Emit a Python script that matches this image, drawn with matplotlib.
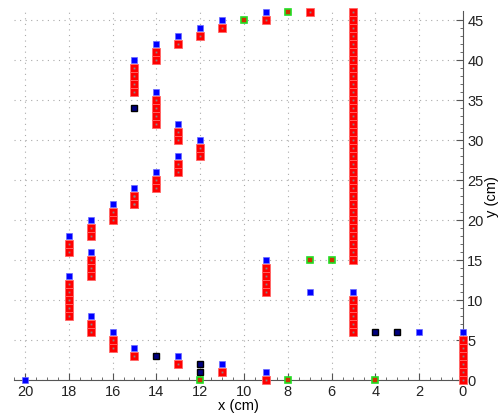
"""
Grid occupancy plot: occupied cells, boundary cells and sampled points.
"""

import matplotlib.pyplot as plt
import numpy as np

# Occupied columns of red cells: x, lowest y, highest y
red_x = [15, 14, 13, 12, 11, 15, 14, 13, 12, 13, 14, 15, 16, 17, 18, 17, 18, 17, 16, 15, 13, 11, 9, 7, 5, 9, 5, 0, 9]
red_y0 = [36, 40, 42, 43, 44, 22, 32, 30, 28, 26, 24, 22, 20, 18, 16, 13, 8, 6, 4, 3, 2, 1, 45, 46, 15, 11, 6, 0, 0]
red_y1 = [39, 41, 42, 43, 44, 23, 35, 31, 29, 27, 25, 23, 21, 19, 17, 15, 12, 7, 5, 3, 2, 1, 45, 46, 46, 14, 10, 5, 0]

# Blue boundary points
blue_x = [20, 15, 14, 13, 12, 11, 9, 14, 13, 12, 13, 14, 15, 16, 17, 18, 17, 18, 17, 16, 15, 13, 11, 9, 7, 5, 2, 0, 9]
blue_y = [0, 40, 42, 43, 44, 45, 46, 36, 32, 30, 28, 26, 24, 22, 20, 18, 16, 13, 8, 6, 4, 3, 2, 15, 11, 11, 6, 6, 1]

# Black points
black_x = [15, 14, 12, 12, 4, 3]
black_y = [34, 3, 2, 1, 6, 6]

# Green points
green_x = [10, 8, 7, 6, 12, 8, 4]
green_y = [45, 46, 15, 15, 0, 0, 0]

plt.rcParams["font.family"] = ["Liberation Sans", "DejaVu Sans"]

rx, ry = [], []
for x, y0, y1 in zip(red_x, red_y0, red_y1):
    for y in range(y0, y1 + 1):
        rx.append(x)
        ry.append(y)

fig = plt.figure(figsize=(5.02, 4.14), dpi=100)
ax = fig.add_axes([14 / 502, 1 - 381 / 414, 449 / 502, 369 / 414])

ax.plot(rx, ry, "s", ms=6.2, mfc="red", mec="#ff6666", mew=0.6, clip_on=False, zorder=3)
ax.plot(rx, ry, "s", ms=1.3, mfc="#888888", mec="#888888", mew=0, clip_on=False, zorder=4)
ax.plot(blue_x, blue_y, "s", ms=4, mfc="blue", mec="#6a6aff", mew=0.5, clip_on=False, zorder=3)
ax.plot(black_x, black_y, "s", ms=4, mfc="#000080", mec="black", mew=1.0, clip_on=False, zorder=3)
ax.plot(green_x, green_y, "s", ms=4, mfc="#cc3300", mec="#22dd22", mew=1.2, clip_on=False, zorder=3)

ax.set_xlim(20, 0)
ax.set_ylim(0, 46.1)
ax.set_xticks(np.arange(0, 21, 2))
ax.set_yticks(np.arange(0, 46, 5))
ax.set_xticks(np.arange(0, 21, 0.5), minor=True)
ax.set_yticks(np.arange(0, 46, 1), minor=True)

ax.yaxis.tick_right()
ax.yaxis.set_label_position("right")
ax.spines["top"].set_visible(False)
ax.spines["left"].set_visible(False)
ax.spines["right"].set_color("#555555")
ax.spines["bottom"].set_color("#555555")
ax.tick_params(which="both", direction="in", colors="#555555", labelcolor="#222222", labelsize=10.5)
ax.tick_params(which="major", length=5, pad=3)
ax.tick_params(which="minor", length=2.5)

ax.grid(True, which="major", linestyle=(0, (1, 4)), color="#aaaaaa", linewidth=0.8)
ax.set_xlabel("x (cm)", fontsize=10.5, labelpad=0)
ax.set_ylabel("y (cm)", fontsize=10.5, labelpad=1)

plt.savefig("out.png", dpi=100)
